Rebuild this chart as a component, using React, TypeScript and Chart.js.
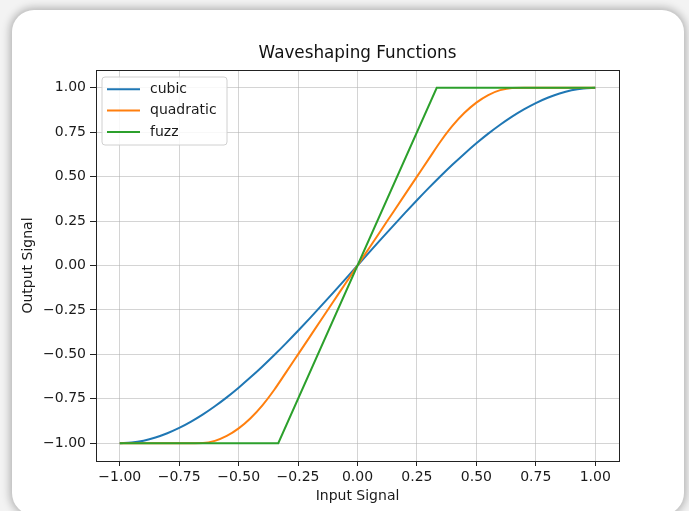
import React, { useEffect, useRef } from "react";
import { Chart, registerables } from "chart.js";

Chart.register(...registerables);

const chartTitle = "Waveshaping Functions";
const xAxisTitle = "Input Signal";
const yAxisTitle = "Output Signal";

const inputX = [
  -1, -0.95, -0.9, -0.85, -0.8, -0.75, -0.7, -0.65, -0.6, -0.55, -0.5, -0.45, -0.4, -0.35, -0.3, -0.25, -0.2, -0.15,
  -0.1, -0.05, 0, 0.05, 0.1, 0.15, 0.2, 0.25, 0.3, 0.35, 0.4, 0.45, 0.5, 0.55, 0.6, 0.65, 0.7, 0.75, 0.8, 0.85, 0.9,
  0.95, 1,
];

const cubicY = [
  -1, -0.9963, -0.9855, -0.9679, -0.944, -0.9141, -0.8785, -0.8377, -0.792, -0.7418, -0.6875, -0.6294, -0.568,
  -0.5036, -0.4365, -0.3672, -0.296, -0.2233, -0.1495, -0.0749, 0, 0.0749, 0.1495, 0.2233, 0.296, 0.3672, 0.4365,
  0.5036, 0.568, 0.6294, 0.6875, 0.7418, 0.792, 0.8377, 0.8785, 0.9141, 0.944, 0.9679, 0.9855, 0.9963, 1,
];

const quadraticY = [
  -1, -1, -1, -1, -1, -1, -1, -0.9992, -0.9867, -0.9592, -0.9167, -0.8592, -0.7867, -0.6992, -0.6, -0.5, -0.4, -0.3,
  -0.2, -0.1, 0, 0.1, 0.2, 0.3, 0.4, 0.5, 0.6, 0.6992, 0.7867, 0.8592, 0.9167, 0.9592, 0.9867, 0.9992, 1, 1, 1, 1, 1,
  1, 1,
];

const fuzzX = [-1, -0.3333, 0.3333, 1];
const fuzzY = [-1, -1, 1, 1];

const seriesLabels = ["cubic", "quadratic", "fuzz"];
const seriesColors = ["#1f77b4", "#ff7f0e", "#2ca02c"];

const xTickValues = [-1, -0.75, -0.5, -0.25, 0, 0.25, 0.5, 0.75, 1];
const yTickValues = [-1, -0.75, -0.5, -0.25, 0, 0.25, 0.5, 0.75, 1];

const FONT = "'DejaVu Sans', 'Liberation Sans', sans-serif";
const TEXT_COLOR = "#1a1a1a";

const fmt = (v: number) => v.toFixed(2).replace("-", "\u2212");

const framePlugin = {
  id: "mplFrame",
  afterDraw(chart: any) {
    const { ctx, chartArea: a } = chart;
    // title centred over the plot area
    ctx.save();
    ctx.fillStyle = "#111";
    ctx.font = `16.8px ${FONT}`;
    ctx.textAlign = "center";
    ctx.textBaseline = "middle";
    ctx.fillText(chartTitle, (a.left + a.right) / 2, 54);
    ctx.restore();
  },
  afterDatasetsDraw(chart: any) {
    const { ctx, chartArea: a } = chart;
    ctx.save();
    ctx.strokeStyle = "#222";
    ctx.lineWidth = 1;
    ctx.strokeRect(Math.round(a.left) + 0.5, Math.round(a.top) + 0.5, Math.round(a.right - a.left), Math.round(a.bottom - a.top));
    ctx.restore();

    // legend
    const x = a.left + 6;
    const y = a.top + 7;
    const w = 125;
    const h = 68;
    const r = 3;
    ctx.save();
    ctx.beginPath();
    ctx.moveTo(x + r, y);
    ctx.lineTo(x + w - r, y);
    ctx.arcTo(x + w, y, x + w, y + r, r);
    ctx.lineTo(x + w, y + h - r);
    ctx.arcTo(x + w, y + h, x + w - r, y + h, r);
    ctx.lineTo(x + r, y + h);
    ctx.arcTo(x, y + h, x, y + h - r, r);
    ctx.lineTo(x, y + r);
    ctx.arcTo(x, y, x + r, y, r);
    ctx.closePath();
    ctx.fillStyle = "rgba(255,255,255,0.85)";
    ctx.fill();
    ctx.strokeStyle = "#d0d0d0";
    ctx.lineWidth = 1;
    ctx.stroke();
    chart.data.datasets.forEach((ds: any, i: number) => {
      const ly = y + 12.3 + i * 21.3;
      ctx.beginPath();
      ctx.moveTo(x + 5, ly);
      ctx.lineTo(x + 38, ly);
      ctx.strokeStyle = ds.borderColor;
      ctx.lineWidth = 2;
      ctx.stroke();
      ctx.fillStyle = TEXT_COLOR;
      ctx.font = `14px ${FONT}`;
      ctx.textBaseline = "middle";
      ctx.textAlign = "left";
      ctx.fillText(ds.label, x + 48, ly);
    });
    ctx.restore();
  },
};

export default function App() {
  const canvasRef = useRef<HTMLCanvasElement | null>(null);

  useEffect(() => {
    if (!canvasRef.current) return;
    const toPoints = (xs: number[], ys: number[]) => xs.map((x, i) => ({ x, y: ys[i] }));
    const datasetsData = [toPoints(inputX, cubicY), toPoints(inputX, quadraticY), toPoints(fuzzX, fuzzY)];
    const chart = new Chart(canvasRef.current, {
      type: "line",
      data: {
        datasets: datasetsData.map((d, i) => ({
          label: seriesLabels[i],
          data: d,
          borderColor: seriesColors[i],
          backgroundColor: seriesColors[i],
          borderWidth: 2,
          pointRadius: 0,
          fill: false,
          cubicInterpolationMode: i < 2 ? "monotone" : "default",
          order: 2 - i,
        })),
      } as any,
      options: {
        animation: false,
        responsive: false,
        devicePixelRatio: 1,
        layout: { padding: { left: 0, right: 70, top: 70, bottom: 0 } },
        plugins: {
          legend: { display: false },
          tooltip: { enabled: false },
          title: { display: false },
        },
        scales: {
          x: {
            type: "linear",
            min: -1.1,
            max: 1.1,
            afterBuildTicks: (scale: any) => {
              scale.ticks = xTickValues.map((v) => ({ value: v }));
            },
            afterFit: (scale: any) => {
              scale.height = 50;
            },
            ticks: {
              callback: (v: any) => fmt(Number(v)),
              color: TEXT_COLOR,
              font: { family: FONT, size: 14 },
              padding: 3,
              maxRotation: 0,
              autoSkip: false,
            },
            grid: {
              color: "rgba(176,176,176,0.55)",
              lineWidth: 1,
              tickColor: "#222",
              tickLength: 5,
              drawTicks: true,
            },
            border: { display: false },
            title: {
              display: true,
              text: xAxisTitle,
              color: TEXT_COLOR,
              font: { family: FONT, size: 14 },
              padding: { top: 0, bottom: 6.6 },
            },
          },
          y: {
            type: "linear",
            min: -1.1,
            max: 1.1,
            afterBuildTicks: (scale: any) => {
              scale.ticks = yTickValues.map((v) => ({ value: v }));
            },
            afterFit: (scale: any) => {
              scale.width = 96;
            },
            ticks: {
              callback: (v: any) => fmt(Number(v)),
              color: TEXT_COLOR,
              font: { family: FONT, size: 14 },
              padding: 4,
              autoSkip: false,
            },
            grid: {
              color: "rgba(176,176,176,0.55)",
              lineWidth: 1,
              tickColor: "#222",
              tickLength: 6,
              drawTicks: true,
            },
            border: { display: false },
            title: {
              display: true,
              text: yAxisTitle,
              color: TEXT_COLOR,
              font: { family: FONT, size: 14 },
              padding: { top: 19.6, bottom: 0 },
            },
          },
        },
      } as any,
      plugins: [framePlugin],
    });
    return () => chart.destroy();
  }, []);

  return (
    <div
      style={{
        position: "fixed",
        left: 0,
        top: 0,
        width: 689,
        height: 511,
        background: "#f3f3f3",
        overflow: "hidden",
      }}
    >
      <div
        style={{
          position: "absolute",
          left: 12,
          top: 10,
          width: 672,
          height: 505,
          borderRadius: 22,
          background: "#ffffff",
          boxShadow: "0 0 8px 2px rgba(0,0,0,0.28)",
        }}
      />
      <canvas
        ref={canvasRef}
        width={689}
        height={511}
        style={{ position: "absolute", left: 0, top: 0, width: 689, height: 511 }}
      />
    </div>
  );
}
